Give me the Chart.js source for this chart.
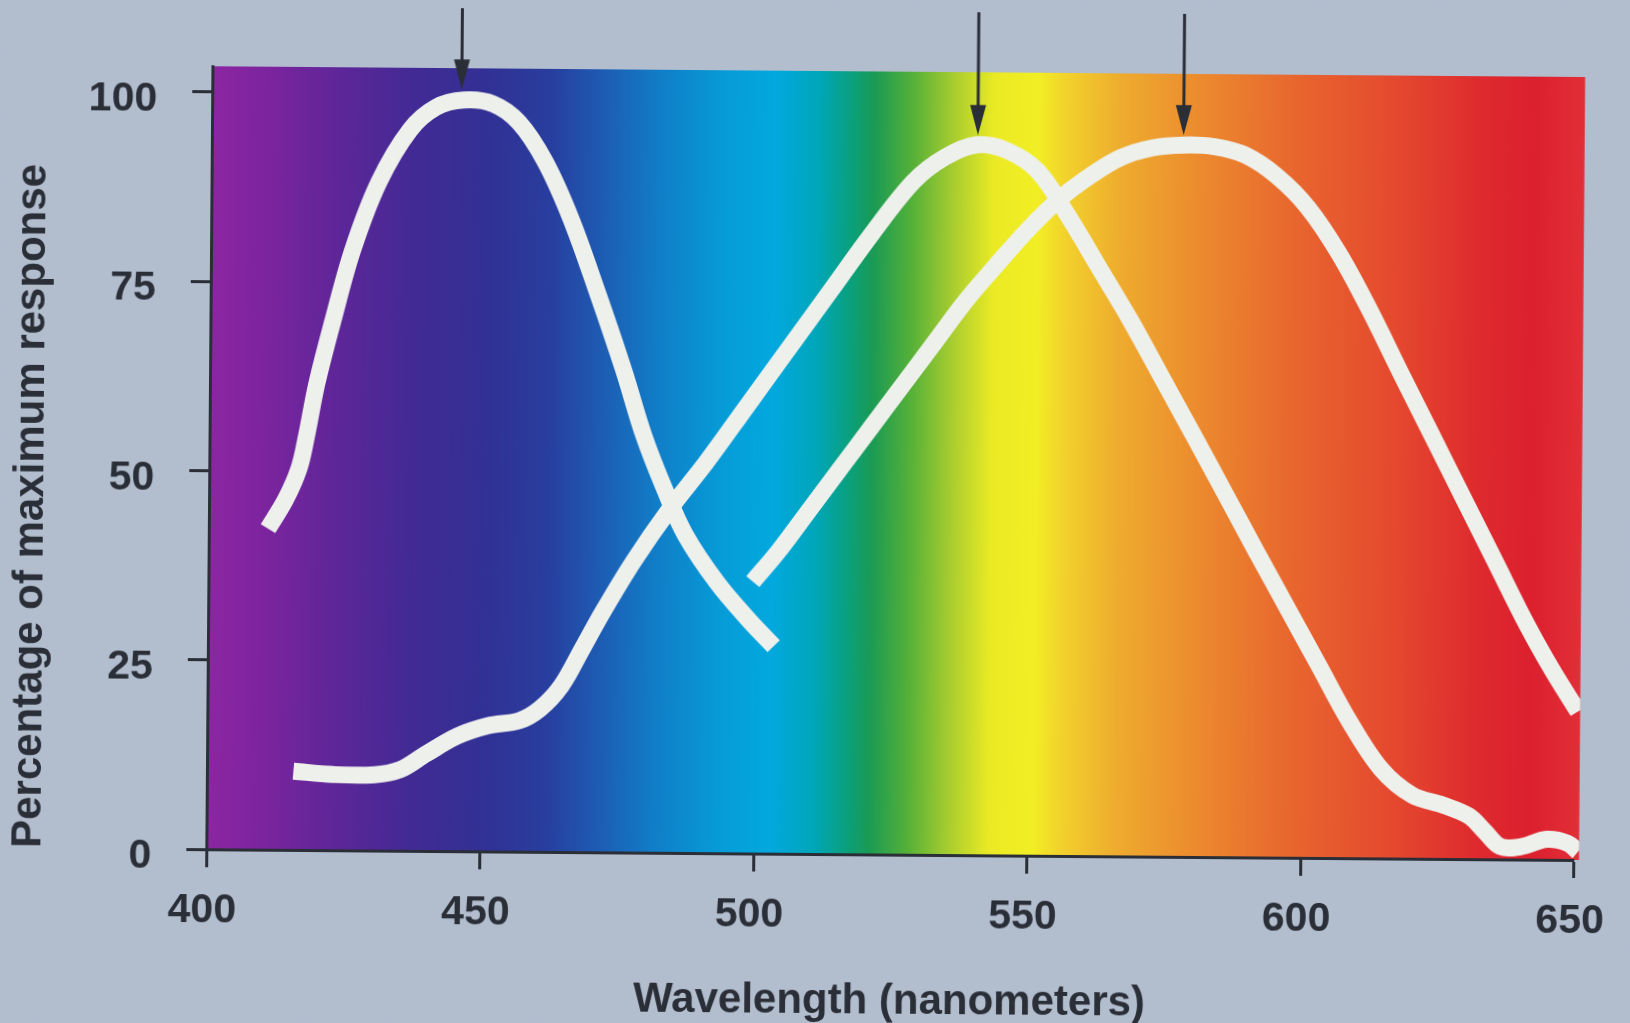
<!DOCTYPE html>
<html>
<head>
<meta charset="utf-8">
<title>Cone sensitivity</title>
<script src="https://cdn.jsdelivr.net/npm/chart.js@4.4.1/dist/chart.umd.min.js"></script>
<style>
  html, body { margin: 0; padding: 0; background: rgb(178,189,206); overflow: hidden; }
  #wrap { width: 1630px; height: 1023px; }
  canvas { display: block; transform: rotate(0.45deg); transform-origin: 815px 511px; }
</style>
</head>
<body>
<div id="wrap"><canvas id="c" width="1630" height="1023"></canvas></div>
<script>
// Short-wavelength (blue) cone response, % of maximum
const blueX = [410.8, 414.0, 416.4, 417.7, 419.5, 422.3, 425.9, 430.6, 436.2, 440.9, 446.0, 451.4, 456.1, 460.9, 465.7, 470.6, 475.5, 479.4, 483.2, 487.1, 492.9, 498.6, 503.4];
const blueY = [42.4, 46.3, 50.4, 54.6, 61.5, 69.7, 79.3, 88.3, 95.2, 98.2, 99.2, 98.7, 96.3, 91.2, 83.7, 74.1, 63.9, 55.0, 48.1, 42.0, 35.8, 31.0, 27.4];

// Medium-wavelength (green) cone response
const greenX = [415.8, 423.0, 430.6, 435.3, 440.0, 445.7, 451.3, 457.0, 460.8, 464.6, 468.3, 472.0, 477.7, 484.2, 490.8, 498.3, 505.8, 513.3, 520.8, 528.3, 533.9, 539.6, 545.3, 551.0, 556.8, 562.6, 568.3, 574.1, 579.9, 585.7, 591.4, 597.2, 603.0, 608.8, 614.6, 620.3, 626.0, 630.7, 633.6, 636.5, 640.3, 645.0, 648.8, 650.7];
const greenY = [10.4, 10.0, 10.0, 10.7, 12.8, 15.2, 16.6, 17.3, 18.9, 21.9, 26.7, 31.6, 38.5, 45.4, 51.6, 59.2, 66.8, 74.4, 82.0, 88.9, 92.1, 93.8, 93.1, 90.4, 84.3, 77.4, 70.6, 63.1, 55.6, 48.0, 40.5, 33.0, 25.5, 18.0, 11.8, 8.4, 7.1, 5.7, 3.7, 1.7, 1.7, 2.7, 2.2, 1.1];

// Long-wavelength (red) cone response
const redX = [499.5, 504.2, 509.8, 515.5, 521.1, 526.7, 532.3, 538.0, 543.6, 549.2, 554.9, 560.5, 566.2, 571.9, 577.6, 583.3, 589.0, 594.7, 600.4, 606.2, 612.0, 617.7, 623.5, 629.3, 635.1, 640.9, 645.7, 650.5];
const redY = [35.9, 40.0, 45.5, 51.1, 56.6, 62.1, 67.6, 73.2, 78.0, 82.6, 86.7, 89.8, 92.3, 93.6, 94.0, 93.8, 92.7, 90.0, 85.9, 79.8, 72.2, 64.0, 55.8, 47.6, 39.4, 31.2, 25.1, 19.6];

// Peak markers: wavelength of each arrow and the value its tip points at
const arrowNm = [445.6, 540.0, 577.6];
const arrowTip = [100.6, 95.1, 95.3];

// Axis ticks
const xTicks = [400, 450, 500, 550, 600, 650];
const yTicks = [0, 25, 50, 75, 100];

// Colour of the visible spectrum behind the curves, by wavelength
const spectrumStops = [
  [399, 'rgb(142,38,162)'],
  [410, 'rgb(124,36,158)'],
  [424, 'rgb(92,38,152)'],
  [437, 'rgb(66,42,148)'],
  [450, 'rgb(50,48,148)'],
  [462, 'rgb(40,62,158)'],
  [471, 'rgb(30,90,178)'],
  [482, 'rgb(16,126,200)'],
  [494, 'rgb(6,156,216)'],
  [503, 'rgb(2,168,222)'],
  [511, 'rgb(0,166,184)'],
  [517, 'rgb(10,160,124)'],
  [521, 'rgb(26,154,84)'],
  [528, 'rgb(84,176,56)'],
  [536, 'rgb(172,206,46)'],
  [543, 'rgb(234,234,36)'],
  [551, 'rgb(242,238,36)'],
  [556, 'rgb(242,210,44)'],
  [566, 'rgb(238,172,46)'],
  [579, 'rgb(236,142,46)'],
  [598, 'rgb(232,102,46)'],
  [617, 'rgb(228,72,46)'],
  [632, 'rgb(222,42,46)'],
  [642, 'rgb(220,32,46)'],
  [652, 'rgb(226,48,56)']
];

const PAGE_BG = 'rgb(178,189,206)';
const INK = 'rgb(42,46,55)';
const CURVE = 'rgb(238,240,236)';
const FONT = '"Liberation Sans", Arial, Helvetica, sans-serif';

const toPoints = (xs, ys) => xs.map((x, i) => ({ x, y: ys[i] }));

const spectrumPlugin = {
  id: 'spectrum',
  beforeDraw(chart) {
    const { ctx, chartArea: a, scales: { x } } = chart;
    ctx.save();
    ctx.fillStyle = PAGE_BG;
    ctx.fillRect(0, 0, chart.width, chart.height);
    const x0 = x.getPixelForValue(spectrumStops[0][0]);
    const x1 = x.getPixelForValue(spectrumStops[spectrumStops.length - 1][0]);
    const g = ctx.createLinearGradient(x0, 0, x1, 0);
    spectrumStops.forEach(([nm, col]) => {
      const t = (x.getPixelForValue(nm) - x0) / (x1 - x0);
      g.addColorStop(Math.min(1, Math.max(0, t)), col);
    });
    ctx.fillStyle = g;
    const right = x.getPixelForValue(650.9);
    ctx.fillRect(a.left, a.top, right - a.left, a.bottom - a.top);
    ctx.restore();
  }
};

const arrowPlugin = {
  id: 'peakArrows',
  afterDatasetsDraw(chart) {
    const { ctx, scales: { x, y } } = chart;
    ctx.save();
    ctx.strokeStyle = INK;
    ctx.fillStyle = INK;
    ctx.lineWidth = 3;
    arrowNm.forEach((nm, i) => {
      const px = x.getPixelForValue(nm);
      const tip = y.getPixelForValue(arrowTip[i]);
      const headLen = 30, headHalf = 8;
      ctx.beginPath();
      ctx.moveTo(px, 11);
      ctx.lineTo(px, tip - headLen + 4);
      ctx.stroke();
      ctx.beginPath();
      ctx.moveTo(px - headHalf, tip - headLen);
      ctx.lineTo(px + headHalf, tip - headLen);
      ctx.lineTo(px, tip);
      ctx.closePath();
      ctx.fill();
    });
    ctx.restore();
  }
};

const curveStyle = {
  borderColor: CURVE,
  borderWidth: 17,
  borderCapStyle: 'butt',
  borderJoinStyle: 'round',
  pointRadius: 0,
  fill: false,
  tension: 0.35,
  clip: { left: false, top: false, right: 5, bottom: 0 }
};

new Chart(document.getElementById('c'), {
  type: 'line',
  data: {
    datasets: [
      { label: 'S cones', data: toPoints(blueX, blueY), ...curveStyle },
      { label: 'M cones', data: toPoints(greenX, greenY), ...curveStyle },
      { label: 'L cones', data: toPoints(redX, redY), ...curveStyle }
    ]
  },
  options: {
    responsive: false,
    animation: false,
    events: [],
    layout: { padding: { left: 0, top: 71, right: 51, bottom: 0 } },
    plugins: { legend: { display: false }, tooltip: { enabled: false } },
    scales: {
      x: {
        type: 'linear',
        min: 400,
        max: 650,
        afterBuildTicks: s => { s.ticks = xTicks.map(v => ({ value: v })); },
        afterFit: s => { s.height = 169; },
        grid: { drawOnChartArea: false, drawTicks: true, tickLength: 18, tickWidth: 3, tickColor: INK },
        border: { display: true, color: INK, width: 3 },
        ticks: { color: INK, padding: 19, labelOffset: -4, maxRotation: 0, font: { family: FONT, size: 41, weight: 'bold' } },
        title: { display: true, text: 'Wavelength (nanometers)', color: INK, padding: { top: 0, bottom: 1 }, font: { family: FONT, size: 42, weight: 'bold', lineHeight: 1 } }
      },
      y: {
        type: 'linear',
        min: 0,
        max: 103.4,
        afterBuildTicks: s => { s.ticks = yTicks.map(v => ({ value: v })); },
        afterFit: s => { s.width = 209; },
        grid: { drawOnChartArea: false, drawTicks: true, tickLength: 20, tickWidth: 3, tickColor: INK },
        border: { display: true, color: INK, width: 3 },
        ticks: { color: INK, padding: 35, labelOffset: 8, font: { family: FONT, size: 41, weight: 'bold' } },
        title: { display: true, text: 'Percentage of maximum response', align: 'start', color: INK, padding: { top: 6, bottom: 0 }, font: { family: FONT, size: 42, weight: 'bold' } }
      }
    }
  },
  plugins: [spectrumPlugin, arrowPlugin]
});
</script>
</body>
</html>
